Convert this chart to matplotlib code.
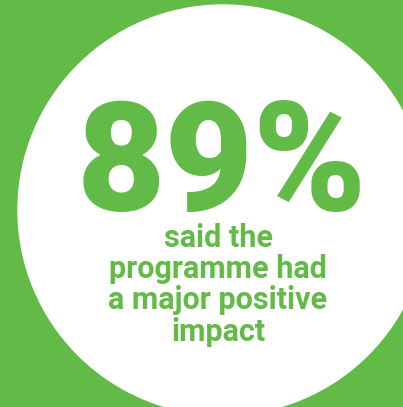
import matplotlib
matplotlib.use("Agg")
from matplotlib import pyplot as plt
from matplotlib.patches import Circle

green = "#62bb46"

value = 89
caption = ["said the", "programme had", "a major positive", "impact"]
caption_y = [247, 278, 309, 341]

fig = plt.figure(figsize=(4.03, 4.07), dpi=100)
fig.patch.set_facecolor(green)
ax = fig.add_axes([0, 0, 1, 1])
ax.set_xlim(0, 403)
ax.set_ylim(407, 0)
ax.axis("off")

ax.add_patch(Circle((223, 210), 205, color="white", zorder=1))

ax.text(222, 211, "{}%".format(value), ha="center", va="baseline",
        color=green, fontsize=110, fontweight="black", family="Roboto", zorder=2)

for line, y in zip(caption, caption_y):
    ax.text(218, y, line, ha="center", va="baseline", color=green,
            fontsize=22, fontweight="bold", family="Roboto", zorder=2)

plt.savefig("out.png", dpi=100, facecolor=green)
